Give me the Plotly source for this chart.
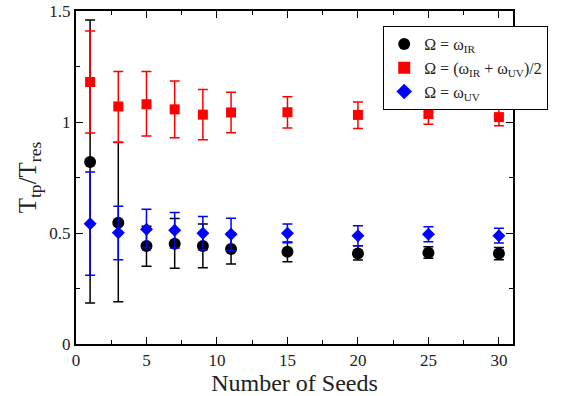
import plotly.graph_objects as go

seeds = [1, 3, 5, 7, 9, 11, 15, 20, 25, 30]

ir_val = [0.82, 0.546, 0.441, 0.452, 0.441, 0.428, 0.416, 0.408, 0.411, 0.408]
ir_hi = [1.46, 0.909, 0.53, 0.565, 0.54, 0.50, 0.46, 0.443, 0.438, 0.435]
ir_lo = [0.185, 0.19, 0.35, 0.341, 0.344, 0.36, 0.37, 0.378, 0.386, 0.38]

mid_val = [1.18, 1.07, 1.08, 1.057, 1.033, 1.043, 1.044, 1.032, 1.036, 1.022]
mid_hi = [1.41, 1.228, 1.228, 1.185, 1.146, 1.134, 1.114, 1.09, 1.081, 1.06]
mid_lo = [0.95, 0.908, 0.937, 0.929, 0.92, 0.952, 0.973, 0.971, 0.99, 0.983]

uv_val = [0.542, 0.501, 0.517, 0.512, 0.499, 0.494, 0.499, 0.488, 0.494, 0.488]
uv_hi = [0.775, 0.62, 0.607, 0.592, 0.574, 0.566, 0.54, 0.533, 0.528, 0.521]
uv_lo = [0.31, 0.38, 0.434, 0.432, 0.425, 0.422, 0.456, 0.443, 0.461, 0.455]

series = [
    ("Ω = ω<sub>IR</sub>", ir_val, ir_hi, ir_lo, "black", "circle", 12),
    ("Ω = (ω<sub>IR</sub> + ω<sub>UV</sub>)/2", mid_val, mid_hi, mid_lo, "#ff0000", "square", 10),
    ("Ω = ω<sub>UV</sub>", uv_val, uv_hi, uv_lo, "#0000ff", "diamond", 10),
]

SERIF = "'Liberation Serif', 'Times New Roman', Times, serif"

fig = go.Figure()
for name, v, hi, lo, col, sym, sz in series:
    fig.add_trace(go.Scatter(
        x=seeds, y=v, mode="markers", name=name,
        marker=dict(color=col, symbol=sym, size=sz),
        error_y=dict(type="data", symmetric=False,
                     array=[h - c for h, c in zip(hi, v)],
                     arrayminus=[c - l for c, l in zip(v, lo)],
                     color=col, thickness=1.5, width=5),
    ))

axis_common = dict(showline=True, linecolor="black", linewidth=2, mirror="allticks",
                   ticks="inside", ticklen=7, tickwidth=1, tickcolor="black",
                   showgrid=False, zeroline=False, automargin=False,
                   tickfont=dict(family=SERIF, size=17, color="#222"))

fig.update_xaxes(range=[0, 31], tickvals=[0, 5, 10, 15, 20, 25, 30],
                 minor=dict(tickvals=[2.5, 7.5, 12.5, 17.5, 22.5, 27.5], ticks="inside", ticklen=4, tickcolor="black"),
                 title=dict(text="Number of Seeds", font=dict(family=SERIF, size=24, color="#222"), standoff=0),
                 **axis_common)
fig.update_yaxes(range=[0, 1.5], tickvals=[0, 0.5, 1, 1.5], ticktext=["0", "0.5", "1", "1.5"],
                 minor=dict(tickvals=[0.25, 0.75, 1.25], ticks="inside", ticklen=4, tickcolor="black"),
                 title=dict(text="T<sub>tp</sub>/T<sub>res</sub>", font=dict(family=SERIF, size=25, color="#222"), standoff=6),
                 **axis_common)

fig.update_layout(
    width=568, height=396,
    font=dict(family=SERIF, color="#222"),
    margin=dict(l=76, r=55, t=11, b=52),
    paper_bgcolor="white", plot_bgcolor="white",
    showlegend=True,
    legend=dict(x=0.703, y=0.955, xanchor="left", yanchor="top",
                bgcolor="white", bordercolor="black", borderwidth=1,
                font=dict(family=SERIF, size=16, color="#222"),
                tracegroupgap=0, itemsizing="constant"),
)

fig.write_html("out.html")
